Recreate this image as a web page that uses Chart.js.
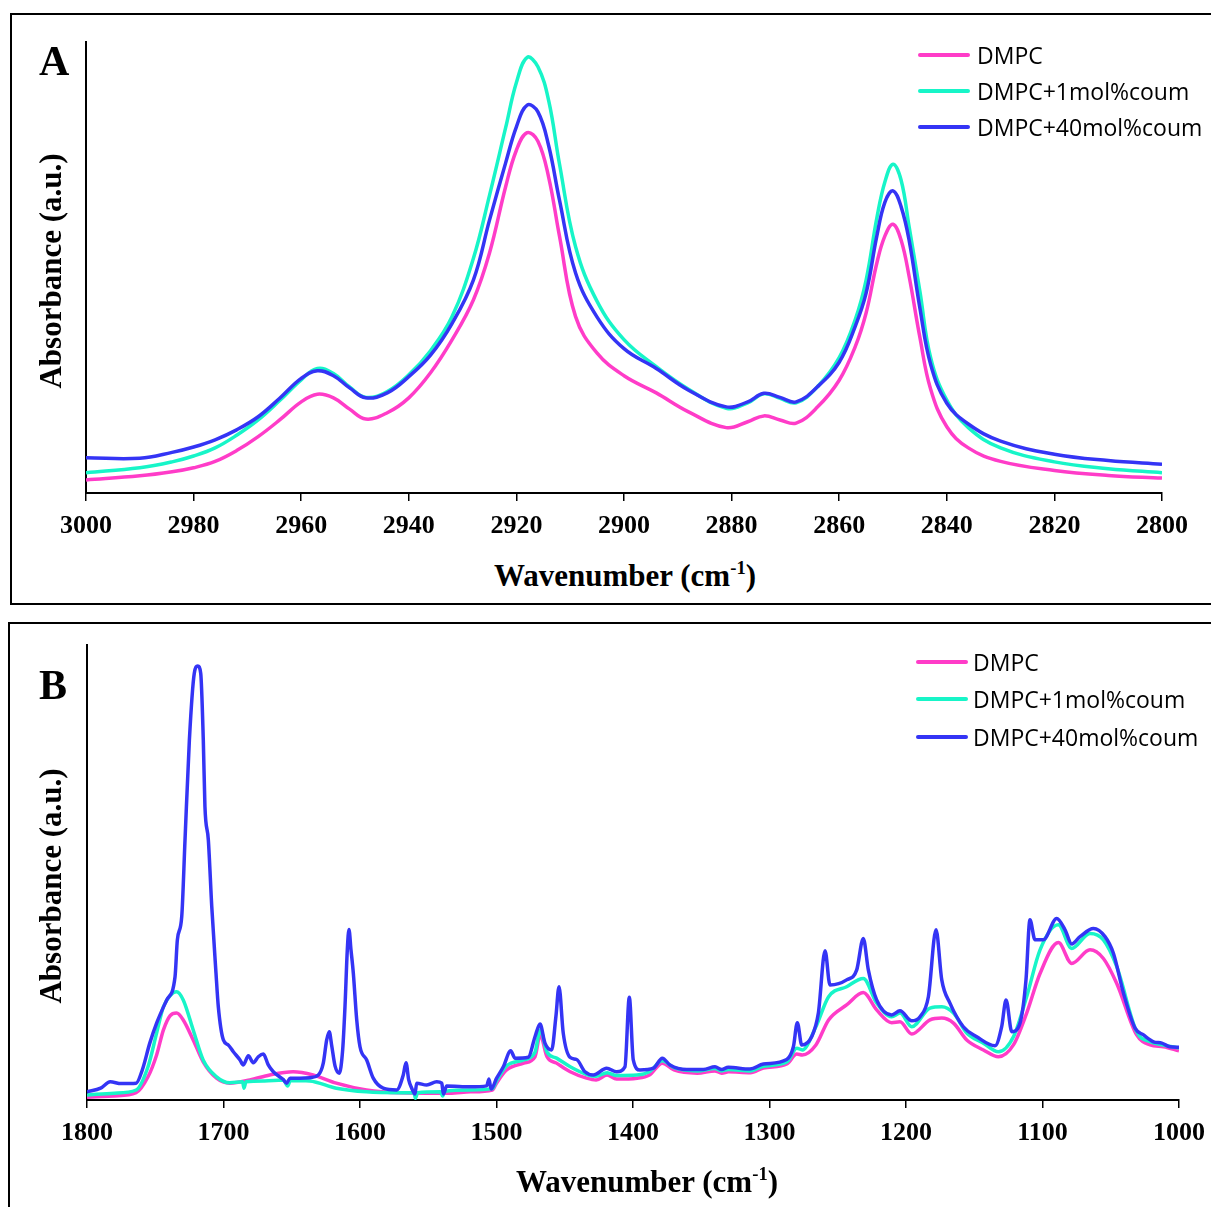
<!DOCTYPE html>
<html>
<head>
<meta charset="utf-8">
<title>FTIR spectra</title>
<script src="https://cdn.jsdelivr.net/npm/chart.js@4.4.0/dist/chart.umd.min.js"></script>
<style>
    html, body { margin: 0; padding: 0; background: #fff; }
    body { position: relative; width: 1211px; height: 1207px; overflow: hidden; }
    .panel { position: absolute; border: 2px solid #000; box-sizing: border-box; }
    #panelA { left: 10px; top: 13px; width: 1220px; height: 592px; }
    #panelB { left: 8px; top: 622px; width: 1220px; height: 620px; }
    canvas { position: absolute; }
    #chartA { left: 12px; top: 15px; }
    #chartB { left: 10px; top: 624px; }
    .serif { position: absolute; font-family: 'Liberation Serif', 'Times New Roman', serif; font-weight: bold; color: #000; line-height: 1; white-space: nowrap; }
    .letter { font-size: 42px; }
    .ytitle { font-size: 31px; transform: translate(-50%, -50%) rotate(-90deg); }
    .xtitle { font-size: 31px; transform: translate(-50%, -50%); }
    .xtitle sup { font-size: 0.6em; vertical-align: 0.6em; line-height: 0; }
    .legend { position: absolute; font-family: 'Open Sans', sans-serif; font-size: 23px; color: #000; }
    .legend .row { position: absolute; left: 0; display: flex; align-items: center; white-space: nowrap; transform: translateY(-50%); }
    .legend .swatch { width: 52px; height: 4px; border-radius: 2px; }
</style>
</head>
<body>
<div class="panel" id="panelA"></div>
<div class="panel" id="panelB"></div>

<canvas id="chartA" width="1199" height="540"></canvas>
<canvas id="chartB" width="1240" height="540"></canvas>

<div class="serif letter" style="left:39px; top:40px;">A</div>
<div class="serif letter" style="left:39px; top:664px;">B</div>

<div class="serif ytitle" style="left:50px; top:271px;">Absorbance (a.u.)</div>
<div class="serif ytitle" style="left:50px; top:886px;">Absorbance (a.u.)</div>

<div class="serif xtitle" style="left:625px; top:575px;">Wavenumber (cm<sup>-1</sup>)</div>
<div class="serif xtitle" style="left:647px; top:1181px;">Wavenumber (cm<sup>-1</sup>)</div>

<div class="legend" id="legendA" style="left:918px; top:0px;"></div>
<div class="legend" id="legendB" style="left:916px; top:0px;"></div>

<script>
// Series shared by both panels
const seriesNames = ['DMPC', 'DMPC+1mol%coum', 'DMPC+40mol%coum'];
const seriesColors = ['#ff3cc8', '#17f5c8', '#3434f5'];

// Panel A: 3000-2800 cm-1 (absorbance in arbitrary units, 0-100)
const ticksA = [3000, 2980, 2960, 2940, 2920, 2900, 2880, 2860, 2840, 2820, 2800];
const wnA = [
    3000, 2990, 2984, 2980, 2976, 2972, 2968, 2964, 2960, 2957,
    2954, 2951, 2948, 2944, 2940, 2936, 2932, 2928, 2925, 2922,
    2920, 2918, 2916, 2914, 2912, 2909, 2905, 2900, 2894, 2888,
    2881, 2877, 2874, 2871, 2868, 2864, 2860, 2857, 2855, 2853,
    2851.5, 2850, 2848.5, 2847, 2845, 2843, 2840, 2836, 2830, 2820,
    2810, 2800
];
const dmpcA = [
    2.9, 3.8, 4.7, 5.6, 7.0, 9.4, 12.5, 16.2, 20.2, 21.9,
    21.1, 18.6, 16.4, 17.8, 21.1, 26.6, 33.9, 42.8, 53.2, 67.9,
    76.0, 79.9, 78.0, 70.0, 57.0, 39.1, 31.0, 26.0, 22.2, 18.0,
    14.5, 15.8, 17.1, 16.2, 15.5, 19.1, 25.0, 32.5, 39.9, 51.0,
    57.0, 59.6, 56.1, 48.0, 34.5, 23.0, 14.7, 10.0, 7.0, 5.0,
    3.9, 3.3
];
const coum1A = [
    4.5, 5.6, 6.9, 8.2, 10.0, 12.8, 16.2, 20.5, 25.1, 27.6,
    26.5, 23.5, 21.2, 22.5, 26.2, 31.5, 39.0, 52.0, 66.0, 81.0,
    91.0, 96.6, 94.5, 87.0, 73.0, 54.6, 42.5, 34.0, 28.0, 23.0,
    18.8, 20.0, 22.0, 21.0, 20.0, 23.6, 30.0, 38.5, 47.2, 61.0,
    69.0, 72.9, 69.4, 59.0, 44.7, 30.0, 20.6, 14.5, 10.0, 6.9,
    5.4, 4.5
];
const coum40A = [
    7.8, 7.7, 9.0, 10.2, 11.8, 14.0, 16.9, 21.0, 25.4, 27.1,
    26.0, 23.3, 21.1, 22.2, 25.8, 30.5, 37.5, 47.2, 60.5, 73.2,
    81.2, 86.0, 84.5, 77.0, 65.0, 48.8, 39.0, 32.0, 27.6, 22.8,
    19.1, 20.2, 22.1, 21.2, 20.2, 23.6, 29.0, 37.0, 44.3, 57.0,
    64.5, 67.0, 63.5, 56.0, 41.0, 28.5, 19.9, 15.3, 11.5, 8.6,
    7.2, 6.4
];

// Panel B: 1800-1000 cm-1
const ticksB = [1800, 1700, 1600, 1500, 1400, 1300, 1200, 1100, 1000];
const wnB_dmpc = [
    1800, 1780, 1764, 1755.3, 1749, 1744, 1739.2, 1734.4, 1729.5, 1722.2,
    1714.9, 1705.1, 1695.4, 1680.7, 1666.1, 1649, 1634.4, 1617.3, 1595.3, 1570.9,
    1534.3, 1519, 1503, 1500, 1492.6, 1480, 1471.8, 1468, 1463, 1456,
    1446, 1434, 1427, 1419, 1412, 1397, 1388, 1378.5, 1370, 1353,
    1340, 1335, 1330, 1314, 1304.5, 1287, 1280, 1276, 1266, 1256.7,
    1243.5, 1231.3, 1221.5, 1210.5, 1204.4, 1195.8, 1182.4, 1173.8, 1165.2, 1155.5,
    1143.3, 1132.3, 1121.3, 1111.6, 1101.8, 1088.4, 1078.6, 1065.2, 1055.4, 1045.6,
    1031, 1021.2, 1011.4, 1000
];
const dmpcB = [
    0.6, 0.9, 1.6, 5.1, 9.9, 15.4, 18.5, 19.1, 17.6, 13.2,
    8.4, 4.8, 3.7, 4.4, 5.5, 6.2, 5.5, 3.7, 2.2, 1.6,
    1.5, 1.8, 2.2, 3.7, 6.6, 8.1, 9.5, 14.3, 9.5, 8.1,
    6.2, 4.8, 4.4, 5.5, 4.6, 4.8, 5.5, 8.1, 6.6, 5.9,
    6.4, 5.9, 6.2, 6.0, 7.0, 8.0, 10.1, 9.9, 12.1, 17.6,
    20.9, 23.6, 19.8, 17.0, 17.2, 14.5, 17.6, 18.0, 16.9, 13.2,
    11.0, 9.5, 12.1, 19.1, 27.8, 34.6, 30.0, 33.0, 31.1, 25.6,
    14.3, 12.1, 11.7, 10.8
];

const wnB_coum1 = [
    1800, 1780, 1764, 1755.3, 1749, 1744, 1739.2, 1734.4, 1729.5, 1722.2,
    1714.9, 1705.1, 1695.4, 1686, 1685, 1683.5, 1670, 1656.2, 1653, 1651,
    1636.9, 1617.3, 1595.3, 1570.9, 1560.5, 1559.4, 1557.8, 1541, 1539.5, 1538,
    1519, 1503, 1500, 1492.6, 1480, 1471.8, 1468, 1463, 1456, 1446,
    1434, 1427, 1419, 1412, 1397, 1388, 1378.5, 1370, 1353, 1340,
    1335, 1330, 1314, 1304.5, 1287, 1280, 1276, 1266, 1256.7, 1243.5,
    1231.3, 1221.5, 1210.5, 1204.4, 1195.8, 1182.4, 1173.8, 1165.2, 1155.5, 1143.3,
    1132.3, 1121.3, 1111.6, 1101.8, 1088.4, 1078.6, 1065.2, 1055.4, 1045.6, 1031,
    1021.2, 1011.4, 1000
];
const coum1B = [
    1.1, 1.5, 2.2, 7.3, 14.7, 20.5, 22.9, 23.8, 22.0, 15.4,
    8.8, 5.1, 3.8, 4.0, 2.6, 4.0, 4.2, 4.4, 3.1, 4.3,
    4.2, 2.6, 1.8, 1.6, 1.6, 0.4, 1.6, 1.8, 0.9, 1.9,
    2.2, 2.5, 4.2, 7.5, 8.8, 10.5, 15.4, 10.5, 9.2, 7.3,
    5.6, 5.2, 6.0, 5.4, 5.5, 6.2, 8.6, 7.1, 6.4, 6.9,
    6.4, 6.7, 6.4, 7.4, 8.4, 11.4, 11.0, 16.1, 22.7, 24.9,
    26.7, 21.3, 18.3, 19.1, 16.1, 20.2, 20.5, 19.1, 14.7, 12.5,
    10.6, 13.9, 22.7, 33.0, 38.5, 33.3, 36.6, 35.2, 29.3, 15.0,
    12.8, 12.1, 11.4
];

const wnB_coum40 = [
    1800, 1790, 1783, 1775, 1764, 1759.5, 1754, 1749, 1741.6, 1735.5,
    1733.8, 1730.6, 1728.2, 1725, 1721.4, 1718.9, 1716.7, 1714.8, 1713.6, 1711.1,
    1708.6, 1705.5, 1703.8, 1700.1, 1696.5, 1692.8, 1687.9, 1685.5, 1681.8, 1678.2,
    1674.5, 1670.8, 1667.2, 1663.5, 1656.2, 1653.7, 1651.3, 1644, 1636.6, 1630.5,
    1626.9, 1624.4, 1622.5, 1620.8, 1618.3, 1615.2, 1612.7, 1611, 1609.3, 1608.1,
    1606.6, 1604.9, 1602.4, 1600, 1595.1, 1590.3, 1583, 1573.1, 1568.3, 1566.3,
    1564.3, 1562.1, 1559.7, 1558.5, 1551.1, 1543.8, 1540.1, 1538.9, 1536.5, 1525,
    1519.4, 1507.2, 1505.5, 1504, 1499.9, 1495, 1489.6, 1486.4, 1476.7, 1471.8,
    1468.1, 1464.5, 1459.6, 1456.5, 1454.2, 1451.1, 1446.2, 1441.3, 1435.2, 1429.1,
    1419.3, 1412, 1405.9, 1402.7, 1399.8, 1394.9, 1385, 1378.5, 1372.9, 1360.7,
    1348.5, 1339.9, 1335, 1330.2, 1314.3, 1304.5, 1287.4, 1282.5, 1279.6, 1276.4,
    1269.1, 1264.2, 1259.3, 1255.7, 1243.5, 1236.1, 1231.3, 1227.6, 1221.5, 1210.5,
    1204.4, 1195.8, 1189.7, 1183.6, 1178, 1173.8, 1167.8, 1158, 1148.2, 1134.8,
    1129.9, 1126.7, 1122.5, 1116.5, 1112.1, 1109.2, 1105.5, 1099.4, 1089.6, 1083.5,
    1078.6, 1072.5, 1062.7, 1054.2, 1048, 1040.7, 1032.2, 1026, 1018.7, 1012.6,
    1006.6, 1000
];
const coum40B = [
    1.8, 2.6, 4.0, 3.6, 3.7, 6.6, 12.5, 16.9, 22.0, 27.1,
    35.2, 40.3, 57.1, 79.1, 93.8, 95.4, 93.8, 79.1, 64.5, 57.1,
    42.5, 27.9, 20.5, 13.2, 12.1, 10.6, 8.8, 7.7, 9.7, 8.2,
    9.5, 10.1, 7.7, 6.2, 4.5, 3.7, 4.8, 4.8, 4.9, 5.5,
    8.1, 13.2, 15.0, 12.1, 7.5, 5.9, 11.0, 20.5, 33.0, 37.5,
    33.0, 27.9, 17.6, 11.7, 8.8, 4.8, 2.6, 2.2, 5.5, 8.2,
    4.4, 2.6, 1.3, 3.7, 3.3, 4.0, 3.7, 1.3, 3.1, 2.9,
    2.9, 3.1, 4.6, 2.4, 4.8, 7.3, 10.8, 9.2, 9.4, 13.9,
    16.7, 12.5, 11.0, 18.3, 24.9, 14.7, 9.4, 8.9, 6.2, 5.5,
    7.0, 6.2, 7.3, 22.6, 8.8, 6.6, 7.0, 9.2, 7.7, 6.7,
    6.7, 7.3, 6.7, 7.2, 6.8, 7.9, 8.9, 11.7, 17.0, 12.1,
    13.9, 19.1, 32.8, 25.3, 26.4, 28.6, 35.5, 28.6, 22.0, 18.7,
    19.6, 17.4, 18.3, 22.7, 37.4, 26.4, 21.3, 16.1, 13.9, 11.9,
    16.1, 22.0, 15.0, 16.9, 26.4, 39.6, 35.2, 35.2, 39.9, 37.4,
    34.3, 35.9, 37.7, 35.9, 32.2, 23.5, 15.8, 14.3, 12.8, 12.5,
    11.7, 11.6
];

const tickFont = { family: "'Liberation Serif', 'Times New Roman', serif", size: 26, weight: 'bold' };

// Build one spectrum panel
function makePanel(canvasId, wnLists, valueLists, tickValues, box) {
    const datasets = valueLists.map((vals, i) => {
        if (vals.length !== wnLists[i].length) console.error('length mismatch', canvasId, i);
        return {
            label: seriesNames[i],
            data: vals.map((v, j) => ({ x: wnLists[i][j], y: v })),
            borderColor: seriesColors[i],
            borderWidth: 3.5,
            pointRadius: 0,
            fill: false,
            cubicInterpolationMode: box.curve,
            tension: 0.4,
            order: 3 - i
        };
    });

    return new Chart(document.getElementById(canvasId), {
        type: 'line',
        data: { datasets },
        options: {
            responsive: false,
            animation: false,
            events: [],
            layout: { padding: { top: box.top, right: box.right, left: 0, bottom: 0 } },
            plugins: { legend: { display: false }, tooltip: { enabled: false } },
            scales: {
                x: {
                    type: 'linear',
                    reverse: true,
                    min: Math.min(...tickValues),
                    max: Math.max(...tickValues),
                    afterBuildTicks: axis => { axis.ticks = tickValues.map(v => ({ value: v })); },
                    afterFit: axis => { axis.height = box.xHeight; },
                    grid: { drawOnChartArea: false, drawTicks: true, tickLength: 8, color: '#000', lineWidth: 1.5 },
                    border: { display: true, color: '#000', width: 2 },
                    ticks: { color: '#000', font: tickFont, padding: 10, maxRotation: 0, autoSkip: false, callback: v => String(v) }
                },
                y: {
                    min: 0,
                    max: 100,
                    afterFit: axis => { axis.width = box.yWidth; },
                    grid: { drawOnChartArea: false, drawTicks: false },
                    border: { display: true, color: '#000', width: 2 },
                    ticks: { display: false }
                }
            }
        }
    });
}

// Legend rows (HTML), same entries in both panels
function renderLegend(id, rowYs, textGap) {
    const el = document.getElementById(id);
    seriesNames.forEach((name, i) => {
        const row = document.createElement('div');
        row.className = 'row';
        row.style.top = rowYs[i] + 'px';
        row.innerHTML = `<span class="swatch" style="background:${seriesColors[i]}; margin-right:${textGap}px"></span><span>${name}</span>`;
        el.appendChild(row);
    });
}

makePanel('chartA', [wnA, wnA, wnA], [dmpcA, coum1A, coum40A], ticksA,
    { top: 27, right: 49, yWidth: 74, xHeight: 62, curve: 'default' });
makePanel('chartB', [wnB_dmpc, wnB_coum1, wnB_coum40], [dmpcB, coum1B, coum40B], ticksB,
    { top: 21, right: 71, yWidth: 77, xHeight: 64, curve: 'monotone' });

renderLegend('legendA', [55, 91, 127], 7);
renderLegend('legendB', [662, 699, 737], 5);
</script>
</body>
</html>
